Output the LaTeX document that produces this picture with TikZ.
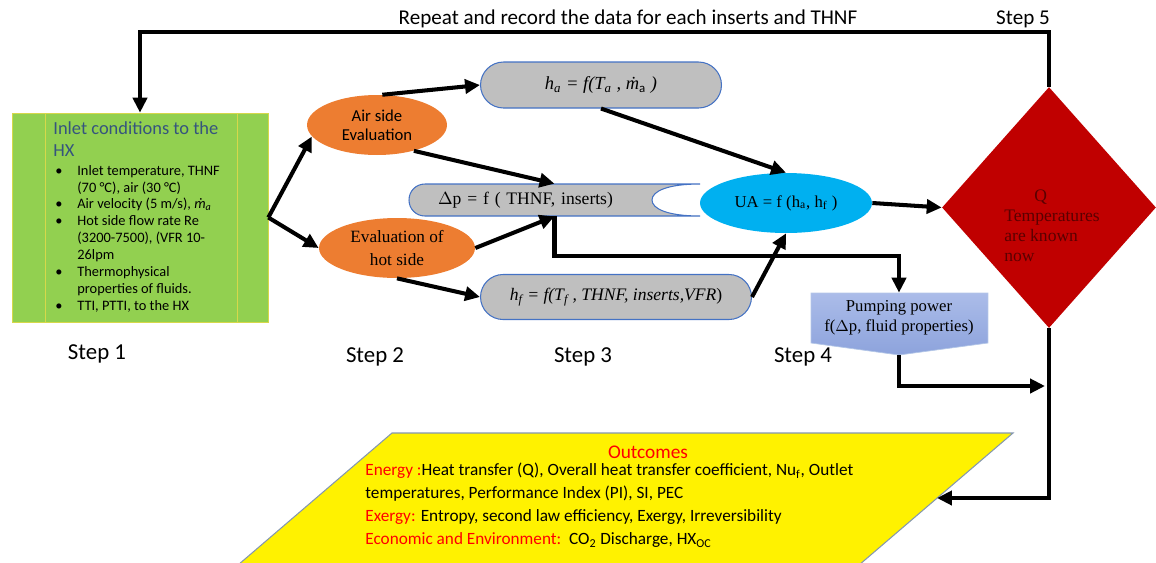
\documentclass[tikz,border=0pt]{standalone}
\usepackage{fontspec}
\setmainfont{Liberation Serif}
\newfontfamily\calib{Carlito}
\usetikzlibrary{arrows.meta,shapes.geometric,shapes.misc}
\definecolor{grn}{HTML}{92D050}
\definecolor{grnb}{HTML}{D6D84A}
\definecolor{ttl}{HTML}{35547E}
\definecolor{orng}{HTML}{ED7D31}
\definecolor{pillg}{HTML}{BFBFBF}
\definecolor{pillb}{HTML}{4472C4}
\definecolor{uab}{HTML}{00B0F0}
\definecolor{qred}{HTML}{C00000}
\definecolor{qtxt}{HTML}{5A0000}
\definecolor{pumpt}{HTML}{ABBCE9}
\definecolor{pumpb}{HTML}{8DA3DC}
\definecolor{pumpd}{HTML}{B4C7E7}
\definecolor{outb}{HTML}{8497B0}
\tikzset{
  flow/.style={line width=2.3pt,-{Triangle[length=8.5pt,width=8pt]}},
  oval/.style={ellipse,inner sep=0pt,align=center},
  orangev/.style={fill=orng},
  pill/.style={rounded rectangle,draw=pillb,line width=0.6pt,fill=pillg,inner sep=0pt,font=\fontsize{10.5}{12}\selectfont},
  steplbl/.style={font=\calib\fontsize{13}{15}\selectfont},
  times/.style={font=\fontsize{9.5}{11.3}\selectfont}
}

\begin{document}
\begin{tikzpicture}[x=0.02cm,y=-0.02cm]
\useasboundingbox (0,0) rectangle (1156,562);
\node[draw=grnb,fill=grn,minimum width=5.12cm,minimum height=4.18cm,inner sep=0pt] (inlet) at (140,217.5) {};
\draw[grnb,thin] (45,113) -- (45,322) (237,113) -- (237,322);
\node[anchor=north west,align=left,text=ttl,inner sep=0pt,font=\calib\fontsize{10.5}{12.5}\selectfont] (title) at (53,121) {Inlet conditions to the\\HX};
\node[anchor=north west,inner sep=0pt,font=\calib\fontsize{8.2}{9.6}\selectfont] (list) at (55,163) {%
\begin{tabular}{@{}p{0.44cm}@{}p{3.2cm}@{}}
\textbullet & Inlet temperature, THNF\newline (70 °C), air (30 °C)\\
\textbullet & Air velocity (5 m/s), \textit{ṁ}\textsubscript{\itshape a}\\
\textbullet & Hot side flow rate Re\newline (3200-7500), (VFR 10-\newline 26lpm\\
\textbullet & Thermophysical\newline properties of fluids.\\
\textbullet & TTI, PTTI, to the HX
\end{tabular}};

\node[oval,orangev,minimum width=2.8cm,minimum height=1.2cm,font=\calib\fontsize{9.5}{11}\selectfont] (air) at (377,125) {Air side\\Evaluation};
\node[oval,orangev,minimum width=3.12cm,minimum height=1.2cm,font=\fontsize{9.8}{13.5}\selectfont] (hot) at (397,248) {Evaluation of\\hot side};

\node[pill,minimum width=4.82cm,minimum height=0.92cm] (ha) at (601,85) {\itshape h\textsubscript{a} = f(T\textsubscript{a} , ṁ\textsubscript{\calib\upshape a} )};
\node[pill,minimum width=5.42cm,minimum height=0.9cm,font=\fontsize{10}{12}\selectfont] (hf) at (616,297) {\itshape h\textsubscript{f} = f(T\textsubscript{f} , THNF, inserts,VFR\upshape)};

\filldraw[fill=pillg,draw=pillb,line width=0.6pt] (700,184) -- (425,184) .. controls (416,184) and (409,191) .. (409,200) .. controls (409,209) and (416,216) .. (425,216) -- (700,216) .. controls (668,216) and (652,209) .. (652,200) .. controls (652,191) and (668,184) .. (700,184);
\node[minimum width=5.82cm,minimum height=0.64cm,inner ysep=0pt,inner xsep=0.58cm,text width=4.66cm,align=left,font=\fontsize{10}{12}\selectfont] (dp) at (554.5,200) {$\Delta$p = f ( THNF, inserts)};

\node[oval,fill=uab,minimum width=3.44cm,minimum height=1.2cm,times] (ua) at (786,203) {UA = f (h\textsubscript{a}, h\textsubscript{f} )};

\node[diamond,fill=qred,minimum width=4.28cm,minimum height=4.82cm,inner sep=0pt] (q) at (1049,207.5) {};
\node[anchor=north west,align=left,text=qtxt,inner sep=0pt,font=\fontsize{10}{11.3}\selectfont] (qlbl) at (1004,190) {\hspace*{0.6cm}Q\\Temperatures\\are known\\now};

\shade[top color=pumpt,bottom color=pumpb,draw=pumpd] (811,293) -- (988,293) -- (988,343) -- (899,355) -- (811,343) -- cycle;
\node[minimum width=3.54cm,minimum height=1.0cm,inner sep=0pt,align=center,times] (pump) at (899,318) {Pumping power\\f($\Delta$p, fluid properties)};
\coordinate (pumptip) at (899,355);

\filldraw[fill=yellow,draw=outb,line width=0.6pt] (392,433) -- (1013,433) -- (859,565) -- (238,565) -- cycle;
\node[text=red,font=\calib\fontsize{11}{13}\selectfont] (outc) at (648,452) {Outcomes};
\node[anchor=north west,align=left,inner sep=0pt,font=\calib\fontsize{9.8}{13}\selectfont] (outl) at (365,463) {%
\textcolor{red}{Energy :}Heat transfer (Q), Overall heat transfer coefficient, Nu\textsubscript{f}, Outlet\\
temperatures, Performance Index (PI), SI, PEC\\
\textcolor{red}{Exergy:} Entropy, second law efficiency, Exergy, Irreversibility\\
\textcolor{red}{Economic and Environment:}\ \ CO\textsubscript{2} Discharge, HX\textsubscript{OC}};

\node[font=\calib\fontsize{12}{14}\selectfont] (rep) at (628,19) {Repeat and record the data for each inserts and THNF};
\node[font=\calib\fontsize{12}{14}\selectfont] (s5) at (1023,19) {Step 5};
\node[steplbl] (s1) at (97,354) {Step 1};
\node[steplbl] (s2) at (375,357) {Step 2};
\node[steplbl] (s3) at (583,357) {Step 3};
\node[steplbl] (s4) at (803,357) {Step 4};

\coordinate (loop) at (140,32);
\coordinate (qin) at (1045,386);
\coordinate (outr) at (937,498);
\draw[flow] (q.north) |- (loop) -- (inlet.north);
\draw[flow] (inlet.east) -- (air.190);
\draw[flow] (inlet.east) -- (hot.west);
\draw[flow] (air.80) -- (ha.west);
\draw[flow] (air.-35) -- (dp.north);
\draw[flow] (hot.east) -- (dp.south);
\draw[flow] (hot.south) -- (hf.west);
\draw[flow] (ha.south) -- (ua.north);
\draw[flow] (hf.east) -- (ua.south);
\draw[flow] (ua.east) -- (q.west);
\draw[flow] (dp.south) -- ++(0,40) -| (pump.north);
\draw[flow] (pumptip) |- (qin);
\draw[flow] (q.south) |- (outr);
\end{tikzpicture}
\end{document}
